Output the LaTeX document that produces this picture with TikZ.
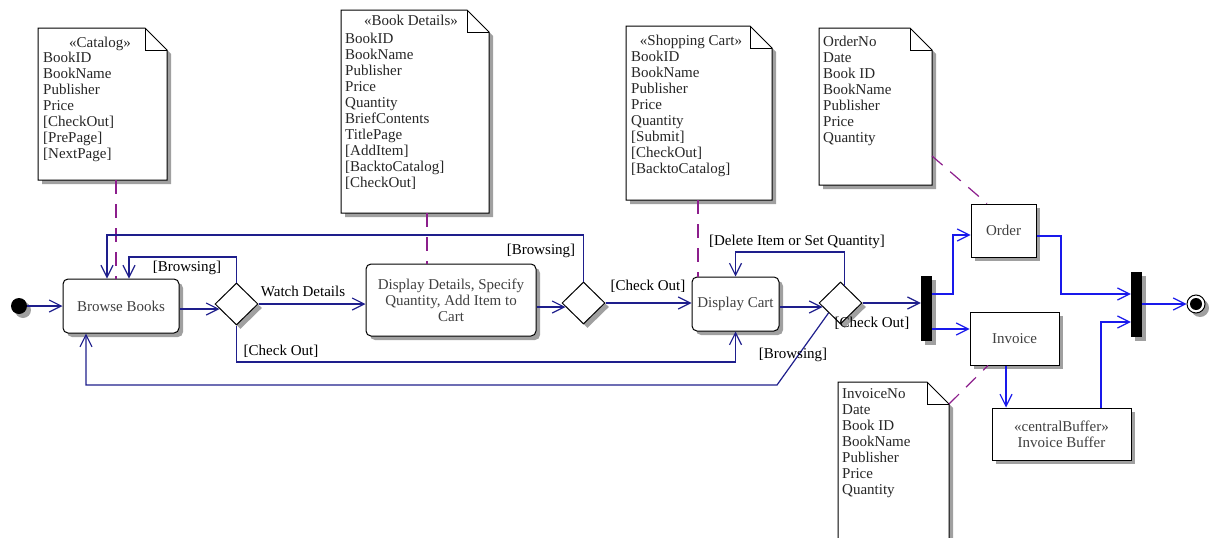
\documentclass[tikz,border=0pt]{standalone}
\usepackage{fontspec}
\setmainfont{Liberation Serif}
\usetikzlibrary{arrows.meta,shapes.geometric,shadows,calc}
\definecolor{flowc}{RGB}{30,30,140}
\definecolor{flowb}{RGB}{25,25,235}
\definecolor{anch}{RGB}{140,30,140}
\definecolor{shadc}{RGB}{160,160,160}
\definecolor{acttext}{RGB}{64,64,64}
\newcommand\umlnote[5]{%
  \fill[shadc] (#2+4,#3+4) -- (#4+4-22,#3+4) -- (#4+4,#3+4+22) -- (#4+4,#5+4) -- (#2+4,#5+4) -- cycle;
  \filldraw[fill=white,draw=black,line width=1pt] (#2,#3) -- (#4-22,#3) -- (#4,#3+22) -- (#4,#5) -- (#2,#5) -- cycle;
  \draw[line width=1pt] (#4-22,#3) -- (#4-22,#3+22) -- (#4,#3+22);
  \path (#2,#3) coordinate (#1-nw) (#4,#5) coordinate (#1-se) (#4,#3+22) coordinate (#1-fold);
}
\begin{document}
\begin{tikzpicture}[x=1pt,y=-1pt,font=\fontsize{15}{16}\selectfont,
  boxshadow/.style={drop shadow={shadow xshift=4pt,shadow yshift=-4pt,fill=shadc,opacity=1}},
  action/.style={rectangle,rounded corners=5pt,draw,line width=1pt,fill=white,boxshadow,text=acttext,align=center,inner sep=2pt},
  objbox/.style={rectangle,draw,line width=1pt,fill=white,boxshadow,text=acttext,align=center,inner sep=2pt},
  decision/.style={diamond,draw,line width=1pt,fill=white,boxshadow,minimum width=43pt,minimum height=42pt,inner sep=0pt},
  syncbar/.style={rectangle,fill=black,boxshadow,minimum width=11pt,minimum height=65pt,inner sep=0pt},
  flow/.style={draw=flowc,line width=1.2pt,-{Straight Barb[length=12pt,width=12pt]}},
  flowbl/.style={draw=flowb,line width=1.2pt,-{Straight Barb[length=12pt,width=12pt]}},
  anchorline/.style={draw=anch,line width=1.2pt,dash pattern=on 14pt off 10pt},
  lbl/.style={inner sep=0pt,text=black},
  notetext/.style={inner sep=0pt,anchor=north west,align=left,text=black!85},
  stereo/.style={inner sep=0pt,anchor=north,text=black!85}]
\useasboundingbox (0,0) rectangle (1210,538);

% notes
\umlnote{catalog}{38}{28}{167}{180}
\node[stereo] (catSt) at (100,37) {«Catalog»};
\node[notetext] (catList) at (43,52) {BookID\\BookName\\Publisher\\Price\\{[CheckOut]}\\{[PrePage]}\\{[NextPage]}};

\umlnote{bookdet}{341}{10}{489}{213}
\node[stereo] (bdSt) at (411,15) {«Book Details»};
\node[notetext] (bdList) at (345,33) {BookID\\BookName\\Publisher\\Price\\Quantity\\BriefContents\\TitlePage\\{[AddItem]}\\{[BacktoCatalog]}\\{[CheckOut]}};

\umlnote{shop}{626}{26}{772}{200}
\node[stereo] (shSt) at (691,35) {«Shopping Cart»};
\node[notetext] (shList) at (631,51) {BookID\\BookName\\Publisher\\Price\\Quantity\\{[Submit]}\\{[CheckOut]}\\{[BacktoCatalog]}};

\umlnote{ordnote}{819}{28}{932}{185}
\node[notetext] (onList) at (823,36) {OrderNo\\Date\\Book ID\\BookName\\Publisher\\Price\\Quantity};

\umlnote{invnote}{838}{382}{949}{570}
\node[notetext] (inList) at (842,388) {InvoiceNo\\Date\\Book ID\\BookName\\Publisher\\Price\\Quantity};

% nodes
\node[circle,fill=black,minimum size=16pt,inner sep=0pt,boxshadow] (init) at (19,306) {};
\node[action,minimum width=116pt,minimum height=54pt] (browse) at (121,306) {Browse Books};
\node[decision] (dec1) at (236.5,304) {};
\node[action,minimum width=170pt,minimum height=72pt] (details) at (451,300) {Display Details, Specify\\Quantity, Add Item to\\Cart};
\node[decision] (dec2) at (583.5,303) {};
\node[action,minimum width=87pt,minimum height=54pt] (cart) at (735.5,304) {Display Cart};
\node[decision] (dec3) at (840.5,303) {};
\node[syncbar] (bar1) at (926.5,308.5) {};
\node[objbox,minimum width=65pt,minimum height=53pt] (order) at (1003.5,230.5) {Order};
\node[objbox,minimum width=89pt,minimum height=53pt] (invoice) at (1014.5,338.5) {Invoice};
\node[objbox,minimum width=139pt,minimum height=52pt] (buffer) at (1061.5,434) {«centralBuffer»\\Invoice Buffer};
\node[syncbar] (bar2) at (1136.5,304.5) {};
\node[circle,draw=black,line width=1pt,fill=white,minimum size=18pt,inner sep=0pt,boxshadow,
  path picture={\fill[black] (path picture bounding box.center) circle (6pt);}] (final) at (1196,304) {};

% anchors (dashed)
\draw[anchorline] (catalog-se -| 116,0) -- (browse.north -| 116,0);
\draw[anchorline] (bookdet-se -| 427,0) -- (details.north -| 427,0);
\draw[anchorline] (shop-se -| 698,0) -- (cart.north -| 698,0);
\draw[anchorline] (ordnote-se |- 0,156) -- (order.north -| 987,0);
\draw[anchorline] (invnote-fold) -- (invoice.south -| 988,0);

% flows
\draw[flow] (init) -- (init -| browse.west);
\draw[flow] ([yshift=-3pt]browse.east) -- ([xshift=5pt,yshift=-5pt]dec1.west);
\draw[flow] (dec1.east) -- (dec1.east -| details.west);
\draw[flow] (dec1.north) -- (dec1.north |- 0,257) -| ([xshift=8pt]browse.north);
\draw[flow] (dec1.south) -- (dec1.south |- 0,362) -| (cart.south);
\draw[flow] ([yshift=-7pt]details.east) -- ([xshift=4pt,yshift=-4pt]dec2.west);
\draw[flow] (dec2.north) -- (dec2.north |- 0,235) -| ([xshift=-14pt]browse.north);
\draw[flow] (dec2.east) -- (dec2.east -| cart.west);
\draw[flow] ([yshift=-3pt]cart.east) -- ([xshift=4pt,yshift=-4pt]dec3.west);
\coordinate (d3top) at ([xshift=4pt,yshift=-4pt]dec3.north);
\draw[flow] (d3top) -- (d3top |- 0,252) -| (cart.north);
\draw[flow] (dec3.east) -- (dec3.east -| bar1.west);
\draw[flow] ([xshift=10pt,yshift=-10pt]dec3.west) -- (777,385) -| ([xshift=-35pt]browse.south);

\draw[flowbl] (bar1.east |- 0,294) -- (953,294) |- (order.west |- 0,235);
\draw[flowbl] (bar1.east |- 0,329) -- (invoice.west |- 0,329);
\draw[flowbl] (order.east |- 0,236) -| (1061,294) -- (bar2.west |- 0,294);
\draw[flowbl] (invoice.south -| 1006,0) -- (buffer.north -| 1006,0);
\draw[flowbl] (buffer.north -| 1101,0) |- (bar2.west |- 0,322);
\draw[flowbl] (bar2.east |- final) -- (final);

% labels
\node[lbl] (l1) at (187,268) {[Browsing]};
\node[lbl] (l2) at (303,291) {Watch Details};
\node[lbl] (l3) at (281,351) {[Check Out]};
\node[lbl] (l4) at (541,251) {[Browsing]};
\node[lbl] (l5) at (648,286.5) {[Check Out]};
\node[lbl] (l6) at (797,242) {[Delete Item or Set Quantity]};
\node[lbl] (l7) at (872,323) {[Check Out]};
\node[lbl] (l8) at (793,355) {[Browsing]};
\end{tikzpicture}
\end{document}
